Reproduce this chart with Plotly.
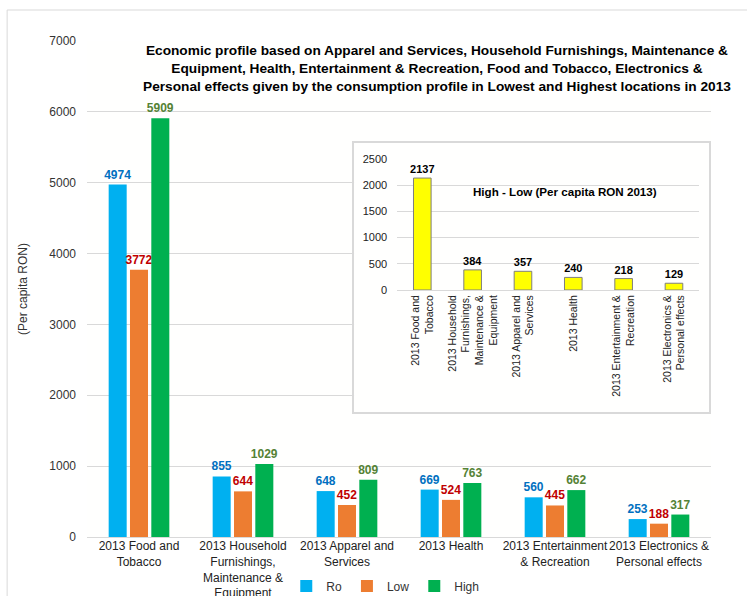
import plotly.graph_objects as go

categories = [
    "2013 Food and<br>Tobacco",
    "2013 Household<br>Furnishings,<br>Maintenance &<br>Equipment",
    "2013 Apparel and<br>Services",
    "2013 Health",
    "2013 Entertainment<br>& Recreation",
    "2013 Electronics &<br>Personal effects",
]
inset_categories = [
    "2013 Food and<br>Tobacco",
    "2013 Household<br>Furnishings,<br>Maintenance &<br>Equipment",
    "2013 Apparel and<br>Services",
    "2013 Health",
    "2013 Entertainment &<br>Recreation",
    "2013 Electronics &<br>Personal effects",
]
ro = [4974, 855, 648, 669, 560, 253]
low = [3772, 644, 452, 524, 445, 188]
high = [5909, 1029, 809, 763, 662, 317]
diff = [2137, 384, 357, 240, 218, 129]

FONT = "Arial, Liberation Sans, sans-serif"
GRID = "#D9D9D9"

fig = go.Figure()
series = [
    ("Ro", ro, "#00B0F0", "#0070C0"),
    ("Low", low, "#ED7D31", "#C00000"),
    ("High", high, "#00B050", "#548235"),
]
for name, vals, col, tcol in series:
    fig.add_trace(go.Bar(
        x=categories, y=vals, name=name,
        marker=dict(color=col, line=dict(width=0)),
        text=[str(v) for v in vals], textposition="outside",
        textfont=dict(family=FONT, size=12, color=tcol, weight="bold"),
        constraintext="none", cliponaxis=False,
        xaxis="x", yaxis="y",
    ))

# empty trace that creates the white inset panel (x2/y2)
fig.add_trace(go.Scatter(x=[], y=[], xaxis="x2", yaxis="y2", showlegend=False,
                         hoverinfo="skip"))

fig.add_trace(go.Bar(
    x=inset_categories, y=diff, name="High - Low", showlegend=False,
    marker=dict(color="#FFFF00", line=dict(color="#7F7F7F", width=1)),
    width=0.35,
    text=[str(v) for v in diff], textposition="outside",
    textfont=dict(family=FONT, size=11, color="#000000", weight="bold"),
    constraintext="none", cliponaxis=False,
    xaxis="x3", yaxis="y3",
))

fig.update_layout(
    width=747, height=596,
    margin=dict(l=87, r=36, t=41, b=59, autoexpand=False),
    paper_bgcolor="#FFFFFF", plot_bgcolor="#FFFFFE",
    font=dict(family=FONT, size=12, color="#333333"),
    barmode="group", bargap=0.385, bargroupgap=0.155,
    xaxis=dict(
        domain=[0, 1], showgrid=False, showline=True, linecolor=GRID,
        linewidth=1, ticks="", tickfont=dict(size=12, color="#222222"),
        tickangle=0, automargin=False, ticklabelstandoff=-2,
    ),
    yaxis=dict(
        domain=[0, 1], range=[0, 7000], dtick=1000, showgrid=True,
        gridcolor=GRID, gridwidth=1, zeroline=False, showline=False,
        tickfont=dict(size=12, color="#333333"), automargin=False,
        title=dict(text="(Per capita RON)", font=dict(size=12, color="#333333"), standoff=19),
        ticklabelstandoff=10,
    ),
    xaxis2=dict(
        domain=[0.428, 0.997], anchor="y2", range=[0, 1], showgrid=False,
        zeroline=False, showticklabels=False, ticks="", showline=True,
        mirror=True, linecolor=GRID, linewidth=1.5,
    ),
    yaxis2=dict(
        domain=[0.252, 0.794], anchor="x2", range=[0, 1], showgrid=False,
        zeroline=False, showticklabels=False, ticks="", showline=True,
        mirror=True, linecolor=GRID, linewidth=1.5,
    ),
    xaxis3=dict(
        domain=[0.497, 0.981], anchor="y3", showgrid=False, showline=True,
        linecolor=GRID, linewidth=1, ticks="", tickangle=-90,
        tickfont=dict(size=10.5, color="#222222"), automargin=False,
    ),
    yaxis3=dict(
        domain=[0.498, 0.762], anchor="x3", range=[0, 2500], dtick=500,
        showgrid=True, gridcolor=GRID, gridwidth=1, zeroline=False,
        showline=False, tickfont=dict(size=11, color="#222222"),
        ticklabelstandoff=9, automargin=False,
    ),
    legend=dict(
        orientation="h", x=0.478, xanchor="center", y=-0.099, yanchor="middle",
        font=dict(size=12, color="#333333"), bgcolor="rgba(0,0,0,0)",
        itemwidth=30, traceorder="normal",
    ),
    showlegend=True,
)

fig.add_annotation(
    text=("Economic profile based on Apparel and Services, Household Furnishings, Maintenance &<br>"
          "Equipment, Health, Entertainment & Recreation, Food and Tobacco, Electronics &<br>"
          "Personal effects given by the consumption profile in Lowest and Highest locations in 2013"),
    xref="paper", yref="paper", x=0.561, y=1.0, xanchor="center", yanchor="top",
    showarrow=False, align="center",
    font=dict(family=FONT, size=13.7, color="#000000", weight="bold"),
)
fig.add_annotation(
    text="High - Low (Per capita RON 2013)",
    xref="x3 domain", yref="y3 domain", x=0.555, y=0.75, xanchor="center", yanchor="middle",
    showarrow=False, font=dict(family=FONT, size=11.6, color="#000000", weight="bold"),
)

# outer chart border
fig.add_shape(
    type="rect", xref="paper", yref="paper",
    x0=-0.128, x1=1.2, y0=-0.3, y1=1.0625,
    fillcolor="rgba(0,0,0,0)", line=dict(color=GRID, width=1), layer="below",
)

fig.write_html("out.html")
